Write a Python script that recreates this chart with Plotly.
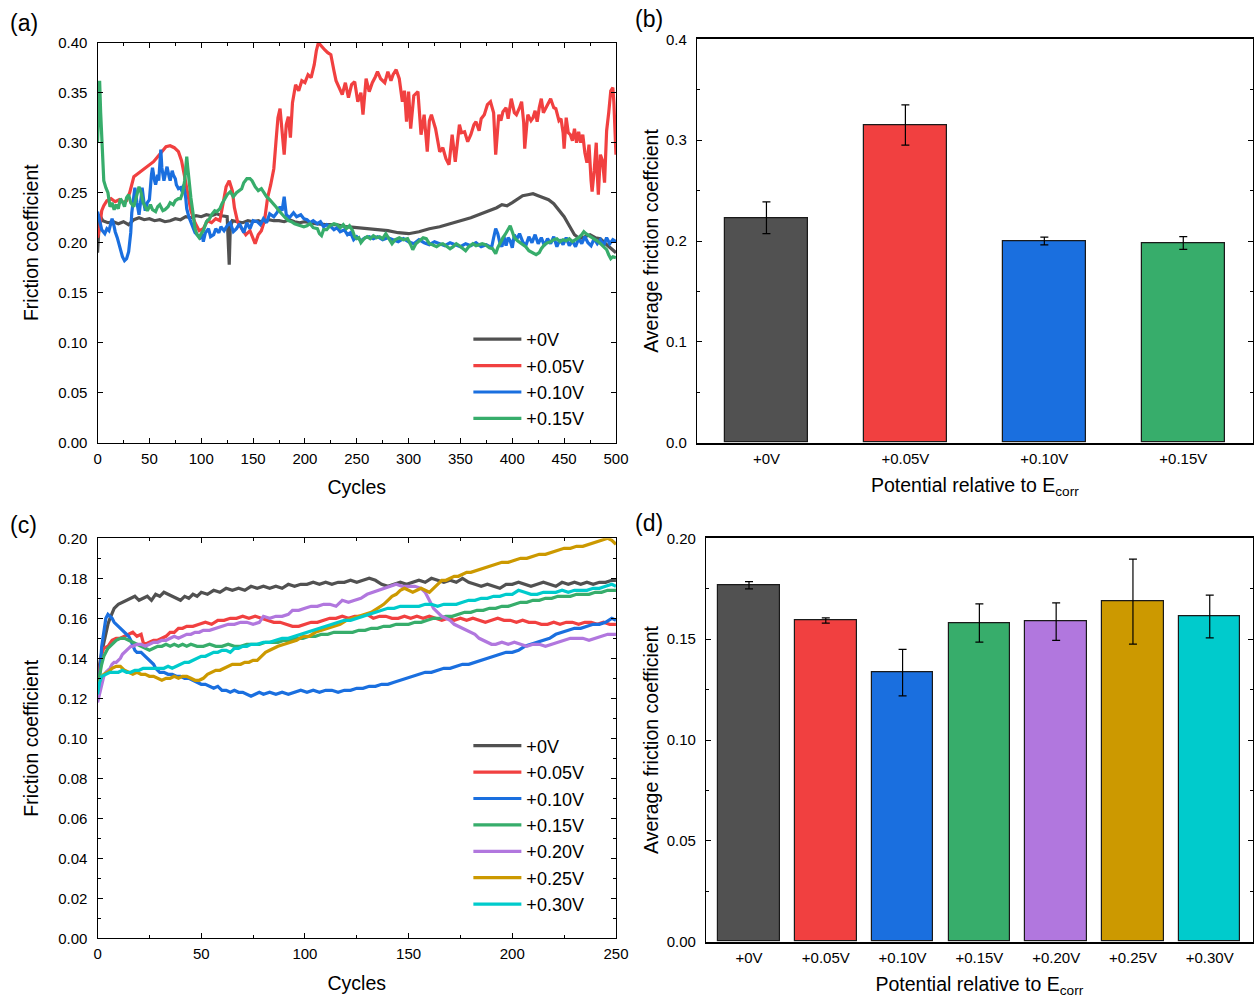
import plotly.graph_objects as go

FONT = "Liberation Sans, Arial, sans-serif"
COLORS = ["#515151", "#F14040", "#1A6FDF", "#37AD6B", "#B177DE", "#CC9900", "#00CBCC"]

# ---------------- Panel (a) data: friction vs cycles ----------------
a_labels = ["+0V", "+0.05V", "+0.10V", "+0.15V"]

a0_x = [0, 1, 2, 5, 10, 15, 20, 25, 30, 35, 40, 45, 50, 55, 60, 65, 70, 75, 80, 85, 90, 95, 100, 105, 110, 115, 120, 125, 126, 127, 128, 130, 135, 140, 145, 150, 155, 160, 165, 170, 175, 180, 185, 190, 195, 200, 210, 220, 230, 240, 250, 260, 270, 280, 290, 300, 310, 320, 330, 340, 350, 360, 370, 380, 385, 390, 395, 400, 405, 410, 415, 420, 425, 430, 435, 440, 445, 450, 455, 460, 465, 470, 475, 480, 485, 490, 495, 500]
a0_y = [0.190, 0.215, 0.228, 0.222, 0.220, 0.221, 0.219, 0.221, 0.218, 0.223, 0.225, 0.223, 0.224, 0.222, 0.223, 0.221, 0.222, 0.224, 0.223, 0.226, 0.225, 0.227, 0.226, 0.228, 0.227, 0.229, 0.227, 0.226, 0.200, 0.178, 0.215, 0.222, 0.221, 0.220, 0.222, 0.221, 0.222, 0.220, 0.223, 0.222, 0.222, 0.221, 0.223, 0.221, 0.220, 0.221, 0.219, 0.218, 0.218, 0.216, 0.215, 0.214, 0.213, 0.212, 0.210, 0.209, 0.211, 0.214, 0.216, 0.219, 0.222, 0.225, 0.229, 0.233, 0.235, 0.238, 0.237, 0.240, 0.244, 0.247, 0.248, 0.249, 0.247, 0.245, 0.243, 0.239, 0.233, 0.226, 0.217, 0.208, 0.204, 0.206, 0.208, 0.205, 0.204, 0.199, 0.195, 0.190]

a1_x = [0, 2, 4, 6, 9, 13, 17, 21, 25, 28, 31, 35, 40, 44, 49, 54, 58, 62, 66, 70, 74, 78, 81, 84, 87, 90, 94, 98, 102, 106, 110, 114, 118, 121, 124, 127, 130, 132, 135, 139, 143, 147, 150, 152, 155, 158, 161, 164, 167, 170, 172, 174, 176, 178, 180, 182, 184, 186, 188, 191, 194, 197, 200, 203, 206, 209, 211, 213, 216, 219, 222, 225, 228, 230, 233, 236, 239, 242, 245, 248, 251, 254, 256, 259, 262, 265, 268, 270, 273, 277, 280, 283, 285, 288, 291, 294, 296, 298, 300, 302, 305, 309, 312, 315, 318, 320, 322, 326, 330, 333, 336, 339, 342, 345, 349, 351, 354, 357, 360, 363, 365, 368, 370, 373, 376, 379, 382, 384, 387, 389, 391, 394, 396, 399, 402, 404, 407, 409, 411, 412, 414, 415, 418, 420, 422, 424, 426, 428, 430, 432, 435, 437, 440, 442, 445, 447, 449, 450, 452, 454, 456, 458, 460, 462, 464, 466, 468, 470, 472, 474, 476, 477, 479, 481, 482, 483, 485, 487, 489, 491, 493, 495, 497, 498, 500]
a1_y = [0.205, 0.215, 0.232, 0.237, 0.242, 0.244, 0.241, 0.243, 0.240, 0.242, 0.250, 0.266, 0.270, 0.273, 0.277, 0.281, 0.286, 0.291, 0.296, 0.297, 0.295, 0.291, 0.282, 0.266, 0.248, 0.232, 0.220, 0.212, 0.214, 0.222, 0.220, 0.224, 0.222, 0.240, 0.256, 0.262, 0.252, 0.235, 0.221, 0.214, 0.208, 0.212, 0.204, 0.199, 0.208, 0.212, 0.222, 0.245, 0.258, 0.274, 0.300, 0.325, 0.334, 0.310, 0.288, 0.318, 0.326, 0.305, 0.340, 0.358, 0.352, 0.362, 0.360, 0.368, 0.365, 0.378, 0.392, 0.400, 0.396, 0.393, 0.390, 0.388, 0.372, 0.362, 0.355, 0.348, 0.360, 0.345, 0.358, 0.361, 0.341, 0.350, 0.328, 0.364, 0.351, 0.360, 0.366, 0.371, 0.364, 0.360, 0.371, 0.362, 0.368, 0.373, 0.364, 0.341, 0.352, 0.321, 0.351, 0.314, 0.347, 0.351, 0.308, 0.328, 0.291, 0.322, 0.328, 0.314, 0.291, 0.295, 0.284, 0.278, 0.308, 0.281, 0.318, 0.310, 0.311, 0.301, 0.308, 0.318, 0.321, 0.312, 0.324, 0.328, 0.338, 0.341, 0.330, 0.288, 0.328, 0.322, 0.331, 0.335, 0.324, 0.344, 0.330, 0.328, 0.335, 0.341, 0.320, 0.294, 0.318, 0.328, 0.322, 0.325, 0.332, 0.321, 0.335, 0.344, 0.330, 0.334, 0.340, 0.344, 0.335, 0.334, 0.322, 0.324, 0.310, 0.294, 0.325, 0.310, 0.308, 0.302, 0.314, 0.300, 0.311, 0.300, 0.308, 0.290, 0.280, 0.298, 0.262, 0.251, 0.272, 0.300, 0.268, 0.248, 0.288, 0.282, 0.260, 0.312, 0.330, 0.352, 0.355, 0.340, 0.288]

a2_x = [0, 2, 4, 7, 9, 11, 13, 14, 16, 17, 19, 20, 22, 24, 26, 28, 30, 31, 32, 33, 35, 36, 38, 40, 42, 43, 45, 46, 48, 50, 52, 53, 55, 56, 58, 59, 61, 62, 64, 66, 67, 69, 70, 72, 73, 75, 76, 78, 80, 82, 83, 85, 86, 88, 90, 92, 94, 97, 99, 101, 102, 104, 107, 109, 112, 114, 117, 119, 122, 125, 128, 131, 134, 137, 141, 144, 147, 150, 154, 157, 160, 163, 166, 170, 173, 176, 178, 180, 182, 185, 189, 192, 196, 199, 202, 205, 208, 212, 215, 218, 221, 225, 228, 231, 234, 238, 241, 244, 247, 250, 254, 258, 262, 266, 270, 275, 280, 285, 290, 295, 300, 305, 310, 315, 320, 325, 330, 335, 340, 345, 350, 355, 360, 365, 370, 375, 380, 382, 384, 386, 388, 390, 392, 394, 396, 398, 400, 402, 404, 407, 410, 413, 416, 419, 422, 425, 428, 431, 434, 437, 440, 443, 446, 449, 452, 455, 458, 461, 464, 467, 470, 473, 476, 479, 482, 485, 488, 491, 494, 497, 500]
a2_y = [0.231, 0.222, 0.213, 0.209, 0.214, 0.212, 0.220, 0.224, 0.216, 0.211, 0.205, 0.201, 0.192, 0.186, 0.182, 0.184, 0.191, 0.200, 0.210, 0.230, 0.250, 0.255, 0.240, 0.228, 0.245, 0.255, 0.238, 0.232, 0.240, 0.243, 0.268, 0.275, 0.262, 0.258, 0.268, 0.262, 0.293, 0.275, 0.262, 0.270, 0.276, 0.266, 0.262, 0.272, 0.268, 0.264, 0.258, 0.254, 0.255, 0.250, 0.258, 0.245, 0.234, 0.226, 0.220, 0.215, 0.210, 0.207, 0.205, 0.209, 0.201, 0.210, 0.214, 0.206, 0.208, 0.214, 0.210, 0.216, 0.212, 0.217, 0.220, 0.211, 0.214, 0.219, 0.210, 0.220, 0.214, 0.222, 0.221, 0.218, 0.224, 0.220, 0.229, 0.226, 0.230, 0.236, 0.232, 0.246, 0.228, 0.225, 0.230, 0.226, 0.228, 0.224, 0.223, 0.220, 0.222, 0.219, 0.221, 0.216, 0.218, 0.216, 0.213, 0.215, 0.211, 0.213, 0.208, 0.210, 0.203, 0.206, 0.202, 0.205, 0.206, 0.204, 0.206, 0.203, 0.205, 0.203, 0.201, 0.204, 0.201, 0.199, 0.203, 0.200, 0.198, 0.201, 0.199, 0.197, 0.200, 0.198, 0.196, 0.199, 0.197, 0.200, 0.196, 0.198, 0.195, 0.205, 0.214, 0.209, 0.200, 0.196, 0.206, 0.197, 0.205, 0.202, 0.195, 0.208, 0.203, 0.209, 0.201, 0.197, 0.206, 0.200, 0.208, 0.199, 0.205, 0.197, 0.204, 0.199, 0.206, 0.196, 0.203, 0.198, 0.205, 0.197, 0.202, 0.196, 0.204, 0.199, 0.206, 0.200, 0.197, 0.204, 0.199, 0.203, 0.197, 0.205, 0.199, 0.203, 0.201]

a3_x = [0, 1, 2, 3, 4, 5, 6, 8, 10, 12, 14, 16, 18, 20, 22, 24, 26, 28, 30, 32, 35, 37, 40, 42, 44, 46, 48, 51, 53, 56, 58, 60, 63, 65, 68, 70, 73, 75, 78, 80, 82, 84, 86, 87, 88, 90, 92, 94, 96, 98, 100, 102, 105, 108, 110, 113, 115, 118, 120, 123, 125, 128, 131, 134, 137, 139, 141, 144, 147, 149, 152, 155, 158, 160, 163, 166, 169, 172, 175, 178, 181, 184, 187, 190, 193, 196, 199, 202, 205, 208, 212, 214, 216, 218, 221, 224, 228, 231, 234, 237, 240, 243, 246, 248, 250, 252, 254, 257, 260, 263, 266, 269, 272, 275, 278, 281, 284, 287, 291, 295, 299, 302, 304, 307, 310, 314, 317, 320, 323, 327, 330, 333, 336, 340, 343, 346, 349, 352, 355, 358, 362, 365, 368, 371, 374, 378, 381, 384, 386, 389, 391, 393, 396, 398, 400, 402, 405, 408, 411, 413, 416, 419, 421, 423, 426, 428, 431, 434, 437, 440, 443, 446, 449, 452, 455, 458, 461, 464, 467, 469, 471, 474, 477, 480, 483, 486, 489, 491, 493, 495, 497, 500]
a3_y = [0.300, 0.340, 0.362, 0.330, 0.301, 0.275, 0.262, 0.255, 0.250, 0.236, 0.240, 0.233, 0.238, 0.234, 0.244, 0.241, 0.236, 0.245, 0.248, 0.240, 0.236, 0.244, 0.256, 0.250, 0.240, 0.236, 0.232, 0.238, 0.233, 0.231, 0.236, 0.238, 0.232, 0.233, 0.236, 0.240, 0.238, 0.242, 0.244, 0.244, 0.250, 0.262, 0.286, 0.275, 0.262, 0.245, 0.230, 0.214, 0.208, 0.205, 0.209, 0.212, 0.221, 0.224, 0.228, 0.232, 0.231, 0.234, 0.239, 0.244, 0.248, 0.251, 0.246, 0.250, 0.252, 0.254, 0.260, 0.264, 0.264, 0.262, 0.256, 0.252, 0.254, 0.251, 0.246, 0.243, 0.240, 0.236, 0.232, 0.228, 0.225, 0.222, 0.221, 0.219, 0.218, 0.217, 0.216, 0.217, 0.219, 0.215, 0.214, 0.209, 0.207, 0.213, 0.213, 0.217, 0.219, 0.218, 0.215, 0.218, 0.214, 0.217, 0.212, 0.206, 0.204, 0.205, 0.200, 0.204, 0.206, 0.204, 0.207, 0.205, 0.206, 0.204, 0.209, 0.204, 0.199, 0.203, 0.205, 0.203, 0.204, 0.198, 0.193, 0.199, 0.202, 0.205, 0.204, 0.199, 0.198, 0.196, 0.198, 0.199, 0.197, 0.194, 0.196, 0.199, 0.197, 0.194, 0.192, 0.196, 0.199, 0.197, 0.198, 0.199, 0.198, 0.195, 0.194, 0.189, 0.195, 0.202, 0.205, 0.208, 0.213, 0.217, 0.211, 0.205, 0.202, 0.200, 0.198, 0.196, 0.192, 0.190, 0.189, 0.188, 0.190, 0.194, 0.198, 0.200, 0.201, 0.203, 0.204, 0.201, 0.203, 0.202, 0.204, 0.201, 0.203, 0.205, 0.208, 0.211, 0.209, 0.207, 0.205, 0.203, 0.201, 0.198, 0.195, 0.193, 0.188, 0.184, 0.186, 0.185]

# ---------------- Panel (b) data ----------------
b_cats = ["+0V", "+0.05V", "+0.10V", "+0.15V"]
b_vals = [0.223, 0.315, 0.200, 0.198]
b_errs = [0.0157, 0.020, 0.0038, 0.0063]

# ---------------- Panel (c) data ----------------
c_labels = ["+0V", "+0.05V", "+0.10V", "+0.15V", "+0.20V", "+0.25V", "+0.30V"]

c0_x = [0, 1, 2, 3, 4, 5, 6, 7, 8, 10, 12, 14, 16, 18, 20, 22, 24, 26, 28, 30, 32, 34, 36, 38, 40, 42, 44, 46, 48, 50, 53, 56, 59, 62, 65, 68, 71, 74, 77, 80, 83, 86, 89, 92, 95, 98, 101, 104, 107, 110, 113, 116, 119, 122, 125, 128, 131, 134, 137, 140, 143, 146, 149, 152, 155, 158, 161, 164, 167, 170, 173, 176, 179, 182, 185, 188, 191, 194, 197, 200, 203, 206, 209, 212, 215, 218, 221, 224, 227, 230, 233, 236, 239, 242, 245, 248, 250]
c0_y = [0.125, 0.137, 0.143, 0.148, 0.153, 0.157, 0.160, 0.163, 0.165, 0.167, 0.168, 0.169, 0.170, 0.171, 0.169, 0.170, 0.171, 0.169, 0.172, 0.171, 0.173, 0.172, 0.171, 0.170, 0.169, 0.171, 0.170, 0.172, 0.171, 0.173, 0.172, 0.174, 0.173, 0.175, 0.174, 0.175, 0.174, 0.176, 0.175, 0.176, 0.175, 0.176, 0.175, 0.177, 0.176, 0.177, 0.177, 0.178, 0.177, 0.178, 0.177, 0.178, 0.178, 0.179, 0.178, 0.179, 0.180, 0.179, 0.177, 0.176, 0.177, 0.178, 0.177, 0.178, 0.179, 0.178, 0.180, 0.179, 0.178, 0.179, 0.178, 0.180, 0.178, 0.177, 0.176, 0.177, 0.176, 0.175, 0.177, 0.177, 0.178, 0.177, 0.176, 0.177, 0.178, 0.177, 0.176, 0.178, 0.177, 0.178, 0.177, 0.178, 0.177, 0.178, 0.178, 0.179, 0.179]

c1_x = [0, 1, 2, 3, 5, 7, 9, 11, 13, 15, 17, 19, 21, 22, 23, 25, 27, 29, 31, 33, 35, 37, 39, 41, 43, 46, 49, 52, 55, 58, 61, 64, 67, 70, 73, 76, 79, 82, 85, 88, 91, 94, 97, 100, 103, 106, 109, 112, 115, 118, 121, 124, 127, 130, 133, 136, 139, 142, 145, 148, 151, 154, 157, 160, 163, 166, 169, 172, 175, 178, 181, 184, 187, 190, 193, 196, 199, 202, 205, 208, 211, 214, 217, 220, 223, 226, 229, 232, 235, 238, 241, 244, 247, 250]
c1_y = [0.127, 0.136, 0.142, 0.145, 0.146, 0.149, 0.150, 0.150, 0.151, 0.152, 0.153, 0.151, 0.152, 0.148, 0.147, 0.148, 0.149, 0.149, 0.150, 0.151, 0.153, 0.153, 0.155, 0.155, 0.156, 0.156, 0.157, 0.158, 0.157, 0.159, 0.159, 0.160, 0.160, 0.161, 0.160, 0.161, 0.160, 0.159, 0.158, 0.158, 0.157, 0.156, 0.156, 0.157, 0.158, 0.158, 0.159, 0.160, 0.160, 0.161, 0.160, 0.161, 0.161, 0.162, 0.160, 0.161, 0.161, 0.160, 0.160, 0.161, 0.160, 0.161, 0.160, 0.161, 0.160, 0.159, 0.160, 0.159, 0.160, 0.159, 0.160, 0.159, 0.158, 0.159, 0.160, 0.159, 0.159, 0.158, 0.159, 0.158, 0.158, 0.157, 0.157, 0.158, 0.157, 0.158, 0.158, 0.157, 0.158, 0.158, 0.157, 0.158, 0.157, 0.157]

c2_x = [0, 1, 2, 3, 4, 5, 6, 7, 8, 9, 10, 11, 12, 13, 14, 15, 16, 17, 18, 19, 20, 21, 22, 23, 24, 25, 26, 27, 28, 29, 30, 32, 34, 36, 38, 40, 42, 44, 46, 48, 50, 52, 54, 56, 58, 60, 62, 64, 66, 68, 70, 72, 74, 76, 78, 80, 83, 86, 89, 92, 95, 98, 101, 104, 107, 110, 113, 116, 119, 122, 125, 128, 131, 134, 137, 140, 143, 146, 149, 152, 155, 158, 161, 164, 167, 170, 173, 176, 179, 182, 185, 188, 191, 194, 197, 200, 203, 206, 209, 212, 215, 218, 221, 224, 227, 230, 233, 236, 239, 242, 245, 248, 250]
c2_y = [0.120, 0.130, 0.146, 0.154, 0.160, 0.162, 0.161, 0.160, 0.158, 0.157, 0.156, 0.155, 0.154, 0.153, 0.152, 0.151, 0.149, 0.146, 0.144, 0.143, 0.143, 0.143, 0.142, 0.141, 0.140, 0.139, 0.138, 0.137, 0.135, 0.134, 0.133, 0.133, 0.132, 0.132, 0.131, 0.131, 0.130, 0.130, 0.129, 0.128, 0.127, 0.127, 0.126, 0.125, 0.126, 0.124, 0.124, 0.123, 0.124, 0.123, 0.123, 0.122, 0.121, 0.122, 0.123, 0.122, 0.123, 0.122, 0.123, 0.122, 0.123, 0.124, 0.123, 0.124, 0.123, 0.124, 0.124, 0.123, 0.124, 0.124, 0.125, 0.125, 0.126, 0.126, 0.127, 0.127, 0.128, 0.129, 0.130, 0.131, 0.132, 0.133, 0.133, 0.134, 0.135, 0.135, 0.136, 0.137, 0.137, 0.138, 0.139, 0.140, 0.141, 0.142, 0.143, 0.143, 0.144, 0.146, 0.147, 0.148, 0.149, 0.150, 0.152, 0.153, 0.154, 0.155, 0.155, 0.156, 0.157, 0.157, 0.158, 0.160, 0.159]

c3_x = [0, 1, 2, 3, 4, 5, 6, 7, 9, 11, 13, 15, 17, 19, 21, 23, 25, 27, 29, 31, 33, 35, 37, 39, 41, 43, 45, 48, 51, 54, 57, 60, 63, 66, 69, 72, 75, 78, 81, 84, 87, 90, 93, 96, 99, 102, 105, 108, 111, 114, 117, 120, 123, 126, 129, 132, 135, 138, 141, 144, 147, 150, 153, 156, 159, 162, 165, 168, 171, 174, 177, 180, 183, 186, 189, 192, 195, 198, 201, 204, 207, 210, 213, 216, 219, 222, 225, 228, 231, 234, 237, 240, 243, 246, 248, 250]
c3_y = [0.126, 0.132, 0.137, 0.141, 0.143, 0.145, 0.146, 0.147, 0.149, 0.150, 0.150, 0.149, 0.148, 0.147, 0.146, 0.145, 0.144, 0.145, 0.146, 0.146, 0.147, 0.146, 0.147, 0.146, 0.147, 0.146, 0.147, 0.146, 0.146, 0.147, 0.146, 0.146, 0.147, 0.146, 0.146, 0.147, 0.147, 0.147, 0.148, 0.148, 0.148, 0.149, 0.149, 0.150, 0.150, 0.151, 0.151, 0.152, 0.152, 0.153, 0.153, 0.153, 0.153, 0.154, 0.154, 0.155, 0.155, 0.156, 0.156, 0.157, 0.157, 0.157, 0.158, 0.158, 0.159, 0.160, 0.160, 0.161, 0.161, 0.162, 0.163, 0.163, 0.164, 0.164, 0.165, 0.165, 0.166, 0.166, 0.167, 0.168, 0.168, 0.169, 0.169, 0.170, 0.170, 0.171, 0.171, 0.171, 0.172, 0.172, 0.172, 0.173, 0.173, 0.174, 0.174, 0.174]

c4_x = [0, 1, 2, 3, 4, 5, 6, 7, 8, 9, 10, 11, 12, 13, 14, 15, 16, 17, 19, 21, 23, 25, 27, 29, 31, 33, 35, 37, 39, 41, 43, 45, 47, 49, 51, 54, 57, 60, 63, 66, 69, 72, 75, 78, 80, 83, 86, 89, 92, 94, 97, 100, 103, 106, 109, 112, 115, 118, 121, 124, 127, 130, 133, 136, 139, 142, 144, 147, 150, 153, 156, 158, 160, 162, 164, 166, 168, 170, 172, 174, 176, 178, 180, 182, 184, 186, 188, 190, 192, 195, 198, 201, 204, 207, 210, 213, 216, 219, 222, 225, 228, 231, 234, 237, 240, 243, 246, 248, 250]
c4_y = [0.118, 0.122, 0.127, 0.131, 0.133, 0.134, 0.135, 0.137, 0.138, 0.138, 0.139, 0.140, 0.142, 0.143, 0.144, 0.145, 0.146, 0.146, 0.147, 0.147, 0.146, 0.147, 0.148, 0.148, 0.149, 0.149, 0.150, 0.151, 0.150, 0.151, 0.152, 0.152, 0.153, 0.153, 0.154, 0.154, 0.155, 0.156, 0.157, 0.157, 0.158, 0.158, 0.157, 0.158, 0.161, 0.160, 0.161, 0.161, 0.162, 0.164, 0.164, 0.165, 0.166, 0.166, 0.167, 0.167, 0.166, 0.169, 0.168, 0.169, 0.170, 0.172, 0.173, 0.174, 0.175, 0.176, 0.177, 0.176, 0.176, 0.176, 0.175, 0.173, 0.169, 0.165, 0.163, 0.161, 0.160, 0.159, 0.157, 0.156, 0.155, 0.154, 0.153, 0.152, 0.150, 0.149, 0.148, 0.147, 0.147, 0.148, 0.147, 0.148, 0.147, 0.146, 0.147, 0.147, 0.146, 0.147, 0.148, 0.149, 0.150, 0.150, 0.150, 0.149, 0.150, 0.151, 0.152, 0.152, 0.152]

c5_x = [0, 1, 2, 3, 5, 7, 9, 11, 13, 15, 17, 19, 21, 23, 25, 27, 29, 31, 33, 35, 37, 39, 41, 43, 45, 47, 49, 51, 53, 55, 57, 59, 61, 63, 65, 67, 69, 71, 73, 75, 77, 79, 81, 83, 85, 87, 90, 93, 96, 99, 102, 105, 108, 111, 114, 117, 120, 123, 126, 129, 132, 135, 138, 140, 142, 144, 146, 148, 150, 152, 154, 156, 158, 160, 162, 164, 166, 168, 170, 172, 174, 176, 178, 180, 183, 186, 189, 192, 195, 198, 201, 204, 207, 210, 213, 216, 219, 222, 225, 228, 231, 234, 237, 240, 243, 246, 248, 250]
c5_y = [0.126, 0.129, 0.131, 0.132, 0.133, 0.135, 0.136, 0.136, 0.134, 0.133, 0.132, 0.133, 0.132, 0.132, 0.131, 0.131, 0.130, 0.129, 0.130, 0.130, 0.131, 0.130, 0.131, 0.131, 0.130, 0.129, 0.129, 0.130, 0.132, 0.133, 0.134, 0.134, 0.135, 0.136, 0.137, 0.137, 0.137, 0.138, 0.138, 0.139, 0.139, 0.141, 0.143, 0.144, 0.145, 0.146, 0.147, 0.148, 0.149, 0.151, 0.151, 0.153, 0.154, 0.155, 0.156, 0.157, 0.159, 0.160, 0.161, 0.162, 0.163, 0.165, 0.167, 0.169, 0.171, 0.172, 0.174, 0.175, 0.174, 0.173, 0.174, 0.175, 0.174, 0.173, 0.175, 0.177, 0.179, 0.179, 0.180, 0.181, 0.181, 0.182, 0.183, 0.183, 0.184, 0.185, 0.186, 0.187, 0.188, 0.188, 0.189, 0.190, 0.190, 0.191, 0.192, 0.192, 0.193, 0.194, 0.195, 0.195, 0.196, 0.196, 0.197, 0.198, 0.199, 0.200, 0.199, 0.197]

c6_x = [0, 1, 2, 4, 6, 8, 10, 12, 14, 16, 18, 20, 22, 24, 26, 28, 30, 32, 34, 36, 38, 40, 42, 44, 46, 48, 50, 52, 54, 56, 58, 60, 62, 64, 66, 68, 70, 72, 74, 77, 80, 83, 86, 89, 92, 95, 98, 101, 104, 107, 110, 113, 116, 119, 122, 125, 128, 131, 134, 137, 140, 143, 146, 149, 152, 155, 158, 161, 164, 167, 170, 173, 176, 179, 182, 185, 188, 191, 194, 197, 200, 203, 206, 209, 212, 215, 218, 221, 224, 227, 230, 233, 236, 239, 242, 245, 248, 250]
c6_y = [0.122, 0.128, 0.131, 0.132, 0.133, 0.133, 0.133, 0.134, 0.133, 0.133, 0.134, 0.134, 0.135, 0.135, 0.135, 0.135, 0.135, 0.135, 0.136, 0.135, 0.136, 0.137, 0.138, 0.138, 0.139, 0.140, 0.141, 0.141, 0.142, 0.143, 0.143, 0.144, 0.144, 0.143, 0.145, 0.145, 0.146, 0.146, 0.147, 0.147, 0.148, 0.148, 0.149, 0.150, 0.150, 0.151, 0.152, 0.153, 0.154, 0.155, 0.156, 0.157, 0.158, 0.159, 0.159, 0.160, 0.161, 0.162, 0.163, 0.164, 0.165, 0.165, 0.166, 0.166, 0.166, 0.166, 0.167, 0.167, 0.166, 0.167, 0.167, 0.167, 0.168, 0.169, 0.169, 0.170, 0.170, 0.171, 0.171, 0.172, 0.172, 0.174, 0.173, 0.172, 0.172, 0.173, 0.173, 0.173, 0.174, 0.173, 0.174, 0.174, 0.174, 0.175, 0.175, 0.176, 0.177, 0.176]

# ---------------- Panel (d) data ----------------
d_cats = ["+0V", "+0.05V", "+0.10V", "+0.15V", "+0.20V", "+0.25V", "+0.30V"]
d_vals = [0.1767, 0.1592, 0.1334, 0.1580, 0.1587, 0.1686, 0.1612]
d_errs = [0.0018, 0.0013, 0.0115, 0.0095, 0.0093, 0.0211, 0.0106]

a_series = [(a0_x, a0_y), (a1_x, a1_y), (a2_x, a2_y), (a3_x, a3_y)]
c_series = [(c0_x, c0_y), (c1_x, c1_y), (c2_x, c2_y), (c3_x, c3_y),
            (c4_x, c4_y), (c5_x, c5_y), (c6_x, c6_y)]

fig = go.Figure()

for i, (xs, ys) in enumerate(a_series):
    fig.add_trace(go.Scatter(x=xs, y=ys, mode="lines", name=a_labels[i],
                             line=dict(color=COLORS[i], width=3.2),
                             xaxis="x", yaxis="y", legend="legend"))

fig.add_trace(go.Bar(x=b_cats, y=b_vals, width=0.6,
                     marker=dict(color=COLORS[:4], line=dict(color="#1a1a1a", width=1.2)),
                     error_y=dict(type="data", array=b_errs, color="black", thickness=1.2, width=4),
                     xaxis="x2", yaxis="y2", showlegend=False))

for i, (xs, ys) in enumerate(c_series):
    fig.add_trace(go.Scatter(x=xs, y=ys, mode="lines", name=c_labels[i],
                             line=dict(color=COLORS[i], width=3.2),
                             xaxis="x3", yaxis="y3", legend="legend2"))

fig.add_trace(go.Bar(x=d_cats, y=d_vals, width=0.8,
                     marker=dict(color=COLORS[:7], line=dict(color="#1a1a1a", width=1.2)),
                     error_y=dict(type="data", array=d_errs, color="black", thickness=1.2, width=4),
                     xaxis="x4", yaxis="y4", showlegend=False))

tickfont = dict(family=FONT, size=15, color="black")
titlefont = dict(family=FONT, size=19.5, color="black")

common_x = dict(showline=True, linecolor="black", linewidth=1.3, mirror="ticks",
                ticks="inside", ticklen=5, tickwidth=1.2, tickcolor="black",
                showgrid=False, zeroline=False, tickfont=tickfont, automargin=False,
                ticklabelstandoff=2)
common_y = dict(showline=True, linecolor="black", linewidth=1.3, mirror="ticks",
                ticks="inside", ticklen=5, tickwidth=1.2, tickcolor="black",
                showgrid=False, zeroline=False, tickfont=tickfont, automargin=False,
                ticklabelstandoff=6)
bar_x = dict(showline=True, linecolor="black", linewidth=2, mirror=True, ticks="",
             showgrid=False, zeroline=False, tickfont=tickfont, automargin=False,
             type="category", ticklabelstandoff=1)

fig.update_layout(
    width=1254, height=1000,
    margin=dict(l=0, r=0, t=0, b=0, pad=0, autoexpand=False),
    paper_bgcolor="white", plot_bgcolor="white",
    font=dict(family=FONT, color="black"),
    bargap=0,
    xaxis=dict(domain=[0.0778, 0.4912], anchor="y", range=[0, 500], dtick=50,
               minor=dict(ticks="inside", ticklen=3, dtick=25, tickcolor="black"),
               title=dict(text="Cycles", font=titlefont, standoff=14), **common_x),
    yaxis=dict(domain=[0.5573, 0.9573], anchor="x", range=[0, 0.40], dtick=0.05, tickformat=".2f",
               title=dict(text="Friction coefficient", font=titlefont, standoff=14), **common_y),
    xaxis2=dict(domain=[0.5558, 0.9990], anchor="y2", range=[-0.5, 3.5],
                title=dict(text="Potential relative to E<sub>corr</sub>", font=titlefont, standoff=13), **bar_x),
    yaxis2=dict(domain=[0.5573, 0.9607], anchor="x2", range=[0, 0.4], dtick=0.1, tickformat=".1f",
                minor=dict(ticks="inside", ticklen=3, dtick=0.05, tickcolor="black"),
                title=dict(text="Average friction coeffcient", font=titlefont, standoff=2), **common_y),
    xaxis3=dict(domain=[0.0778, 0.4912], anchor="y3", range=[0, 250], dtick=50,
                minor=dict(ticks="inside", ticklen=3, dtick=25, tickcolor="black"),
                title=dict(text="Cycles", font=titlefont, standoff=14), **common_x),
    yaxis3=dict(domain=[0.0617, 0.4617], anchor="x3", range=[0, 0.20], dtick=0.02, tickformat=".2f",
                minor=dict(ticks="inside", ticklen=3, dtick=0.01, tickcolor="black"),
                title=dict(text="Friction coefficient", font=titlefont, standoff=14), **common_y),
    xaxis4=dict(domain=[0.5630, 0.9990], anchor="y4", range=[-0.56, 6.56],
                title=dict(text="Potential relative to E<sub>corr</sub>", font=titlefont, standoff=13), **bar_x),
    yaxis4=dict(domain=[0.0583, 0.4617], anchor="x4", range=[0, 0.20], dtick=0.05, tickformat=".2f",
                minor=dict(ticks="inside", ticklen=3, dtick=0.025, tickcolor="black"),
                title=dict(text="Average friction coefficient", font=titlefont, standoff=2), **common_y),
    legend=dict(x=0.3735, y=0.679, xanchor="left", yanchor="top", bgcolor="rgba(0,0,0,0)",
                font=dict(family=FONT, size=18, color="black"), tracegroupgap=0, itemwidth=48),
    legend2=dict(x=0.3735, y=0.2725, xanchor="left", yanchor="top", bgcolor="rgba(0,0,0,0)",
                 font=dict(family=FONT, size=18, color="black"), tracegroupgap=0, itemwidth=48),
)

panel_labels = [("(a)", 0.006, 0.977), ("(b)", 0.5050, 0.981), ("(c)", 0.006, 0.475), ("(d)", 0.5050, 0.477)]
for txt, px, py in panel_labels:
    fig.add_annotation(text=txt, x=px, y=py, xref="paper", yref="paper",
                       xanchor="left", yanchor="middle", showarrow=False,
                       font=dict(family=FONT, size=23, color="black"))

fig.write_html("out.html")
